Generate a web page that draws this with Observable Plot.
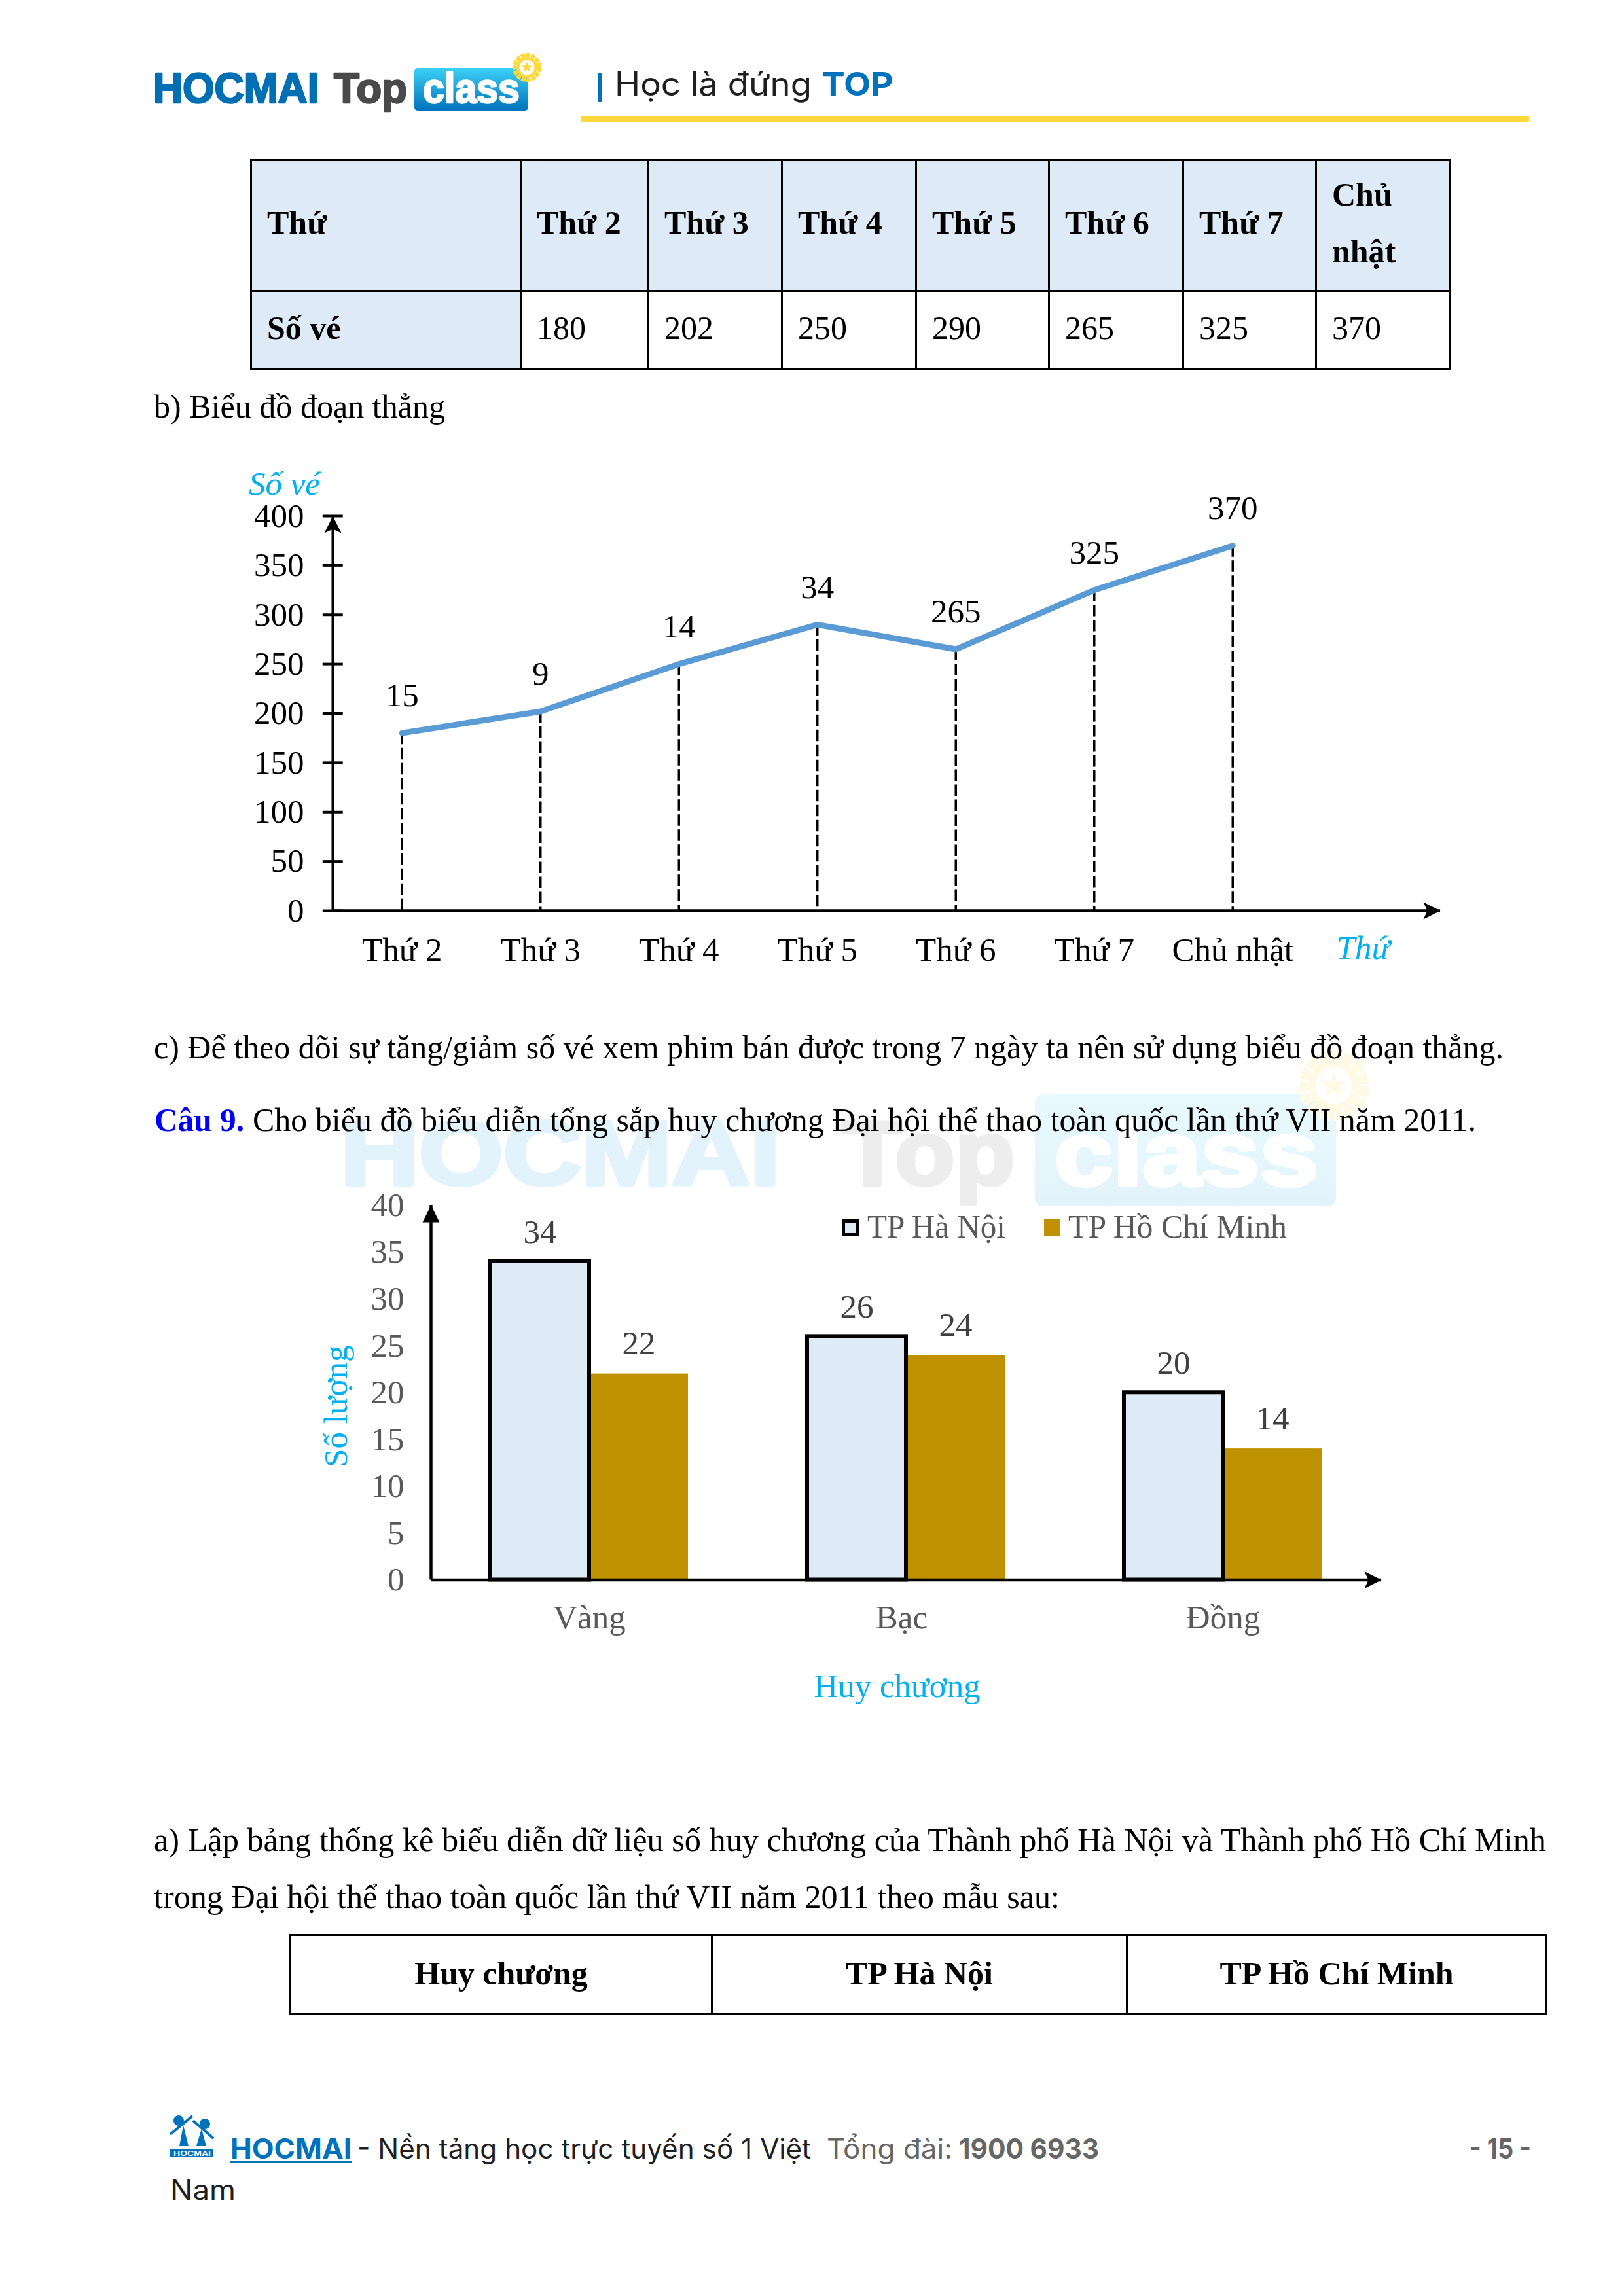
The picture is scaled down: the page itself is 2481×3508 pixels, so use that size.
<!DOCTYPE html>
<html lang="vi">
<head>
<meta charset="utf-8">
<title>Biểu đồ đoạn thẳng và biểu đồ cột kép</title>
<script src="https://cdn.jsdelivr.net/npm/d3@7"></script>
<script src="https://cdn.jsdelivr.net/npm/@observablehq/plot@0.6"></script>
<style>
  html, body { margin: 0; padding: 0; background: #fff; }
  #page { position: relative; width: 2481px; height: 3508px; overflow: hidden; background: #fff; }
  #page > svg, #page > table, #page > div { position: absolute; }
  table { border-collapse: collapse; table-layout: fixed; font-family: "Liberation Serif", serif; font-size: 50px; color: #000; }
  td { border: 3px solid #000; padding: 0 0 8px 23px; vertical-align: middle; box-sizing: border-box; }
  #t1 tr:first-child td { font-weight: bold; background: #DEEAF6; line-height: 87px; }
  #t1 td.head { font-weight: bold; background: #DEEAF6; }
  #t2 td { font-weight: bold; text-align: center; padding: 0 0 4px 0; }
</style>
</head>
<body>
<div id="page"></div>
<script>
// ---------- chart 1 data ----------
const days = ["Thứ 2", "Thứ 3", "Thứ 4", "Thứ 5", "Thứ 6", "Thứ 7", "Chủ nhật"];
const tickets = [180, 202, 250, 290, 265, 325, 370];
const pointLabels = ["15", "9", "14", "34", "265", "325", "370"];
const ticketTicks = [0, 50, 100, 150, 200, 250, 300, 350, 400];

// ---------- chart 2 data ----------
const medals = ["Vàng", "Bạc", "Đồng"];
const medalTickAt = [0.5, 1.4855, 2.5];
const seriesNames = ["TP Hà Nội", "TP Hồ Chí Minh"];
const hanoiCounts = [34, 26, 20];
const hcmCounts = [22, 24, 14];
const countTicks = [0, 5, 10, 15, 20, 25, 30, 35, 40];

// ---------- tables ----------
const tableRowHead = ["Thứ", "Số vé"];
const tableDays = ["Thứ 2", "Thứ 3", "Thứ 4", "Thứ 5", "Thứ 6", "Thứ 7", "Chủ<br>nhật"];
const tableCols = [412, 195, 204, 205, 203, 205, 203, 205];
const table2Heads = ["Huy chương", "TP Hà Nội", "TP Hồ Chí Minh"];
const table2Cols = [644, 634, 641];

// ---------- palette ----------
const cyan = "#00B0F0", lineBlue = "#5B9BD5", paleBlue = "#DEEAF6", gold = "#BF9000";
const gray = "#595959", darkGray = "#404040", brand = "#0072BC", yellow = "#FFD93B";

const page = document.getElementById("page");
const NS = "http://www.w3.org/2000/svg";

// ---------- page layer: header, prose, watermark, footer, legend ----------
const layer = document.createElementNS(NS, "svg");
layer.setAttribute("width", 2481); layer.setAttribute("height", 3508);
layer.setAttribute("viewBox", "0 0 2481 3508");
layer.style.left = "0"; layer.style.top = "0";
page.appendChild(layer);
function el(name, attrs, text) {
  const n = document.createElementNS(NS, name);
  for (const k in attrs) n.setAttribute(k, attrs[k]);
  if (text != null) n.textContent = text;
  layer.appendChild(n);
  return n;
}
const SERIF = "'Liberation Serif', serif", SANS = "'Liberation Sans', sans-serif", UI = "Inter, 'Open Sans', sans-serif";
function txt(x1, x2, y, s, size, family, fill, weight, extra) {
  return el("text", Object.assign({x: x1, y, "font-size": size, "font-family": family, fill: fill || "#000",
    "font-weight": weight || "normal", textLength: x2 - x1, lengthAdjust: "spacingAndGlyphs"}, extra || {}), s);
}
const heavy = (color, w) => ({stroke: color, "stroke-width": w, "stroke-linejoin": "round"});
const defs = el("defs", {});
defs.innerHTML = `<linearGradient id="boxG" x1="0" y1="0" x2="0" y2="1"><stop offset="0" stop-color="#3BD0F5"/><stop offset="1" stop-color="${brand}"/></linearGradient>
<linearGradient id="wmG" x1="0" y1="0" x2="0" y2="1"><stop offset="0" stop-color="#E9FAFE"/><stop offset="1" stop-color="#E2F3FB"/></linearGradient>`;

function badge(cx, cy, R, rim, inner, star) {
  el("circle", {cx, cy, r: R * 0.86, fill: "none", stroke: rim, "stroke-width": R * 0.28, "stroke-dasharray": `${R * 0.3} ${R * 0.06}`});
  el("circle", {cx, cy, r: R * 0.72, fill: rim});
  el("circle", {cx, cy, r: R * 0.52, fill: inner});
  const pts = [];
  for (let i = 0; i < 10; i++) {
    const a = -Math.PI / 2 + i * Math.PI / 5, r = (i % 2 ? 0.16 : 0.38) * R;
    pts.push((cx + r * Math.cos(a)).toFixed(1) + "," + (cy + r * Math.sin(a)).toFixed(1));
  }
  el("polygon", {points: pts.join(" "), fill: star});
}

// watermark
txt(520, 1192, 1810, "HOCMAI", 140, SANS, "#E3F3FC", "bold", heavy("#E3F3FC", 6));
txt(1287, 1550, 1810, "Top", 140, SANS, "#EDEDED", "bold", heavy("#EDEDED", 6));
el("rect", {x: 1581, y: 1672, width: 460, height: 171, rx: 12, fill: "url(#wmG)"});
txt(1611, 2014, 1811, "class", 140, SANS, "#FFFFFF", "bold", heavy("#FFFFFF", 6));
badge(2038, 1659, 54, "#FFFAE6", "#FFFFFF", "#FFFAE6");

// header logo
txt(234, 487, 157, "HOCMAI", 64, SANS, "#006FB3", "bold", heavy("#006FB3", 2.5));
txt(510, 622, 157, "Top", 64, SANS, "#4A4A4A", "bold", heavy("#4A4A4A", 2.5));
el("rect", {x: 633, y: 104, width: 174, height: 65, rx: 5, fill: "url(#boxG)"});
txt(646, 794, 157, "class", 64, SANS, "#FFFFFF", "bold", heavy("#FFFFFF", 2.5));
badge(805, 103, 22, yellow, "#FFFFFF", yellow);

// tagline
el("rect", {x: 913, y: 111, width: 6, height: 45, fill: brand});
txt(939, 1240, 146, "Học là đứng", 50, UI, "#1F1F1F");
txt(1255, 1365, 146, "TOP", 50, UI, brand, "bold");
el("rect", {x: 888, y: 177, width: 1448, height: 9, fill: yellow});

// prose
txt(235, 680, 638, "b) Biểu đồ đoạn thẳng", 50, SERIF);
txt(235, 2297, 1617, "c) Để theo dõi sự tăng/giảm số vé xem phim bán được trong 7 ngày ta nên sử dụng biểu đồ đoạn thẳng.", 50, SERIF);
txt(236, 373, 1728, "Câu 9.", 50, SERIF, "#0000FF", "bold");
txt(386, 2255, 1728, "Cho biểu đồ biểu diễn tổng sắp huy chương Đại hội thể thao toàn quốc lần thứ VII năm 2011.", 50, SERIF);
txt(235, 2362, 2828, "a) Lập bảng thống kê biểu diễn dữ liệu số huy chương của Thành phố Hà Nội và Thành phố Hồ Chí Minh", 50, SERIF);
txt(235, 1619, 2915, "trong Đại hội thể thao toàn quốc lần thứ VII năm 2011 theo mẫu sau:", 50, SERIF);

// chart 2 legend
el("rect", {x: 1288.5, y: 1865.5, width: 22, height: 21, fill: paleBlue, stroke: "#000", "stroke-width": 5});
txt(1325, 1536, 1891, seriesNames[0], 50, SERIF, gray);
el("rect", {x: 1595, y: 1863, width: 25, height: 26, fill: gold});
txt(1632, 1966, 1891, seriesNames[1], 50, SERIF, gray);

// footer
el("circle", {cx: 273, cy: 3240, r: 8, fill: brand});
el("circle", {cx: 313, cy: 3245, r: 8, fill: brand});
el("path", {d: "M260 3261L294 3233M295 3240L326 3267", stroke: brand, "stroke-width": 4, fill: "none"});
el("path", {d: "M280 3247L274 3279L288 3279ZM308 3252L300 3279L315 3279Z", fill: brand});
el("rect", {x: 260, y: 3284, width: 66, height: 12, fill: brand});
txt(265, 322, 3294, "HOCMAI", 10, SANS, "#FFFFFF", "bold");
txt(352, 537, 3298, "HOCMAI", 42, UI, brand, "bold");
el("rect", {x: 352, y: 3302, width: 185, height: 3, fill: brand});
txt(546, 1239, 3298, "- Nền tảng học trực tuyến số 1 Việt", 42, UI, "#1F1F1F");
txt(1263, 1455, 3298, "Tổng đài:", 42, UI, "#666666");
txt(1465, 1679, 3298, "1900 6933", 42, UI, "#666666", "bold");
txt(2245, 2339, 3298, "- 15 -", 42, UI, "#666666", "bold");
txt(260, 360, 3361, "Nam", 42, UI, "#1F1F1F");

// ---------- tables ----------
function table(id, left, top, cols, rowsHtml) {
  const t = document.createElement("table");
  t.id = id; t.style.left = left + "px"; t.style.top = top + "px";
  t.style.width = d3.sum(cols) + "px";
  t.innerHTML = "<colgroup>" + cols.map(c => `<col style="width:${c}px">`).join("") + "</colgroup>" + rowsHtml;
  page.appendChild(t);
}
table("t1", 382, 243, tableCols,
  `<tr style="height:200px"><td class="head">${tableRowHead[0]}</td>${tableDays.map(d => `<td>${d}</td>`).join("")}</tr>` +
  `<tr style="height:120px"><td class="head">${tableRowHead[1]}</td>${tickets.map(v => `<td>${v}</td>`).join("")}</tr>`);
table("t2", 442, 2955, table2Cols,
  `<tr style="height:120px">${table2Heads.map(h => `<td>${h}</td>`).join("")}</tr>`);

// ---------- arrow heads for the axes (tip at the data point, pointing up) ----------
const stealth = {draw(c, size) { const k = Math.sqrt(size / Math.PI) / 13;
  c.moveTo(0, 0); c.lineTo(13 * k, 26 * k); c.lineTo(0, 20 * k); c.lineTo(-13 * k, 26 * k); c.closePath(); }};
const plainHead = {draw(c, size) { const k = Math.sqrt(size / Math.PI) / 13;
  c.moveTo(0, 0); c.lineTo(13 * k, 26 * k); c.lineTo(-13 * k, 26 * k); c.closePath(); }};

function place(svg, top) { svg.style.left = "0"; svg.style.top = top + "px"; svg.style.maxWidth = "none"; page.appendChild(svg); }

// ---------- chart 1: line chart ----------
const lineRows = days.map((d, i) => ({i, value: tickets[i], label: pointLabels[i]}));
const chart1 = Plot.plot({
  width: 2481, height: 800,
  marginLeft: 508, marginRight: 281, marginTop: 98, marginBottom: 99,
  style: {background: "transparent", fontFamily: "'Liberation Serif', serif", fontSize: "51px", color: "#000", overflow: "visible"},
  x: {domain: [-0.5, 7.5], axis: null},
  y: {domain: [0, 400], axis: null},
  marks: [
    Plot.ruleX(lineRows, {x: "i", y1: "value", y2: 0, stroke: "#000", strokeWidth: 3.5, strokeDasharray: "17.5 5.5"}),
    Plot.ruleX([-0.5], {y1: 0, y2: 400, stroke: "#000", strokeWidth: 4}),
    Plot.ruleY([0], {stroke: "#000", strokeWidth: 4.5}),
    Plot.ruleY(ticketTicks, {x1: -0.572, x2: -0.4255, stroke: "#000", strokeWidth: 4}),
    Plot.line(lineRows, {x: "i", y: "value", stroke: lineBlue, strokeWidth: 9, strokeLinecap: "round", strokeLinejoin: "round"}),
    Plot.text(lineRows, {x: "i", y: "value", text: "label", dy: -57, fill: "#000"}),
    Plot.axisY({ticks: ticketTicks, tickSize: 0, tickPadding: 44, label: null, fill: "#000"}),
    Plot.axisX({ticks: d3.range(days.length), tickFormat: i => days[i], tickSize: 0, tickPadding: 40, label: null, fill: "#000"}),
    Plot.text(["Số vé"], {frameAnchor: "top-left", textAnchor: "middle", lineAnchor: "middle", dx: -74, dy: -49, fill: cyan, fontStyle: "italic"}),
    Plot.text(["Thứ"], {frameAnchor: "bottom-right", textAnchor: "middle", lineAnchor: "middle", dx: -118, dy: 57, fill: cyan, fontStyle: "italic"}),
    Plot.dot([[-0.5, 400]], {x: d => d[0], y: d => d[1], r: 13, symbol: stealth, fill: "#000", stroke: "none"}),
    Plot.dot([[7.5, 0]], {x: d => d[0], y: d => d[1], r: 13, symbol: stealth, rotate: 90, fill: "#000", stroke: "none"})
  ]
});
place(chart1, 690);

// ---------- chart 2: grouped bars ----------
// x is in "group" units: each medal owns one unit, the pair of bars takes the middle of it.
const groupInset = 0.188;
const hanoiRows = medals.map((m, i) => ({medal: m, x1: i + groupInset, x2: i + 0.5, value: hanoiCounts[i]}));
const hcmRows = medals.map((m, i) => ({medal: m, x1: i + 0.5, x2: i + 1 - groupInset, value: hcmCounts[i]}));
const chart2 = Plot.plot({
  width: 2481, height: 800,
  marginLeft: 658, marginRight: 371, marginTop: 41, marginBottom: 186.5,
  style: {background: "transparent", fontFamily: "'Liberation Serif', serif", fontSize: "51px", color: gray, overflow: "visible"},
  x: {domain: [0, medals.length], axis: null},
  y: {domain: [0, 40], axis: null},
  marks: [
    Plot.rect(hcmRows, {x1: "x1", x2: "x2", y1: 0, y2: "value", fill: gold}),
    Plot.rect(hanoiRows, {x1: "x1", x2: "x2", y1: 0, y2: "value", fill: paleBlue, stroke: "#000", strokeWidth: 6}),
    Plot.ruleX([0], {y1: 0, y2: 40, stroke: "#000", strokeWidth: 4.5}),
    Plot.ruleY([0], {stroke: "#000", strokeWidth: 4.5}),
    Plot.text(hanoiRows, {x: d => (d.x1 + d.x2) / 2, y: "value", text: "value", dy: -45, fill: darkGray}),
    Plot.text(hcmRows, {x: d => (d.x1 + d.x2) / 2, y: "value", text: "value", dy: -46, fill: darkGray}),
    Plot.axisY({ticks: countTicks, tickSize: 0, tickPadding: 41, label: null, fill: gray}),
    Plot.axisX({ticks: medalTickAt, tickFormat: v => medals[Math.floor(v)], tickSize: 0, tickPadding: 38, label: null, fill: gray}),
    Plot.text(["Huy chương"], {frameAnchor: "bottom", textAnchor: "middle", lineAnchor: "middle", dx: -14, dy: 163, fill: cyan}),
    Plot.text(["Số lượng"], {frameAnchor: "left", textAnchor: "middle", lineAnchor: "middle", rotate: -90, dx: -145, dy: 21, fill: cyan}),
    Plot.dot([[0, 40]], {x: d => d[0], y: d => d[1], r: 13, symbol: plainHead, fill: "#000", stroke: "none"}),
    Plot.dot([[medals.length, 0]], {x: d => d[0], y: d => d[1], r: 13, symbol: stealth, rotate: 90, fill: "#000", stroke: "none"})
  ]
});
place(chart2, 1800);
</script>
</body>
</html>
